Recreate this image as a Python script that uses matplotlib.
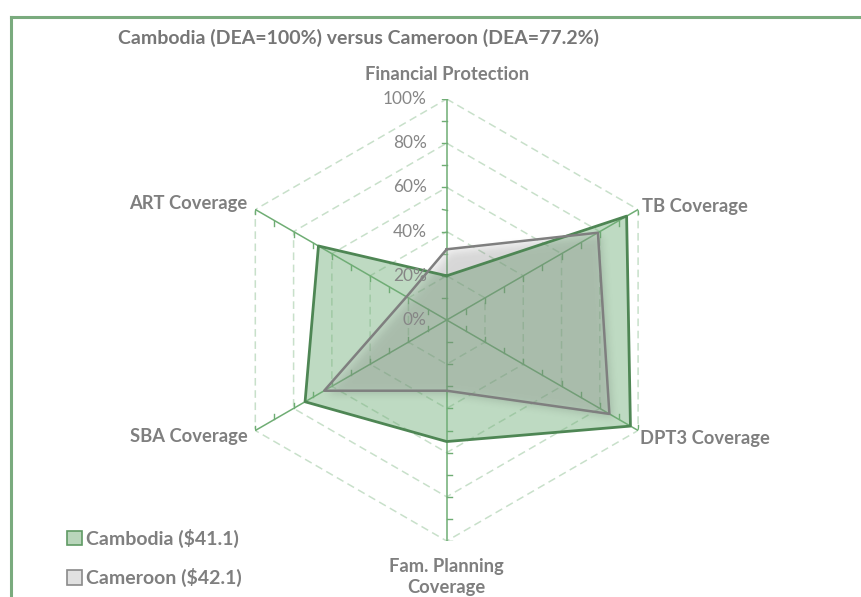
import numpy as np
import matplotlib
matplotlib.use("Agg")
import matplotlib.pyplot as plt
from matplotlib.patches import Patch
from matplotlib.lines import Line2D
from matplotlib.path import Path

# ---- data -------------------------------------------------------------
categories = ["Financial Protection", "TB Coverage", "DPT3 Coverage",
              "Fam. Planning\nCoverage", "SBA Coverage", "ART Coverage"]
cambodia = [20, 94, 96, 55, 74, 67]      # percent
cameroon = [32, 79, 85, 32, 64, 21]      # percent
series_labels = ["Cambodia ($41.1)", "Cameroon ($42.1)"]
title = "Cambodia (DEA=100%) versus Cameroon (DEA=77.2%)"
radial_ticks = [0, 20, 40, 60, 80, 100]

# ---- style ------------------------------------------------------------
FONT = ["Lato", "DejaVu Sans"]
TXT = "#7f7f7f"
AXIS_GREEN = "#6fad74"
GRID_GREEN = "#c8e0ca"
CAM_LINE = "#4e8654"
CAM_FILL = "#70ad78"
CMR_LINE = "#7f7f7f"
CMR_FILL = "#bcbcbc"

W, H = 862, 597
fig = plt.figure(figsize=(W / 100, H / 100), dpi=100)
fig.patch.set_facecolor("white")

# radar area: centre and radius in pixels
cx, cy, R = 446.7, 320.0, 221.0
rect = [(cx - R) / W, (H - cy - R) / H, 2 * R / W, 2 * R / H]


def radar_axes(z):
    a = fig.add_axes(rect, projection="polar", zorder=z)
    a.set_theta_offset(np.pi / 2)
    a.set_theta_direction(-1)
    a.set_ylim(0, 1)
    a.axis("off")
    return a


ax = radar_axes(0)        # grid, spokes, first series fill
ax_top = radar_axes(2)    # second series and outlines

n = len(categories)
theta = np.arange(n) * 2 * np.pi / n
theta_c = np.append(theta, theta[0])

# hexagonal dashed gridlines
for lvl in radial_ticks[1:]:
    ax.plot(theta_c, np.full(n + 1, lvl / 100), color=GRID_GREEN, lw=1.1,
            ls=(0, (5, 3)), zorder=1)

# spokes with minor tick marks
tick_len = 5.0 / R
for t in theta:
    ax.plot([t, t], [0, 1], color=AXIS_GREEN, lw=1.1, zorder=2)
    sx, sy = np.sin(t), np.cos(t)          # spoke direction on screen
    for k in range(1, 11):
        r = k / 10
        px, py = r * sx, r * sy
        if abs(sx) < 1e-6:
            dx, dy = (-tick_len if sy > 0 else tick_len), 0.0
        else:
            dx, dy = 0.0, (-tick_len if sy > 0 else tick_len)
        qx, qy = px + dx, py + dy
        ax.plot([np.arctan2(px, py), np.arctan2(qx, qy)],
                [np.hypot(px, py), np.hypot(qx, qy)],
                color=AXIS_GREEN, lw=1.0, zorder=2)

# series
cam = np.append(cambodia, cambodia[0]) / 100
cmr = np.append(cameroon, cameroon[0]) / 100
ax.fill(theta_c, cam, color=CAM_FILL, alpha=0.45, lw=0, zorder=3)


# soft drop shadow of the second series (down-right, blurred)
def gaussian_blur(img, sigma):
    rad = int(3 * sigma)
    x = np.arange(-rad, rad + 1)
    k = np.exp(-x ** 2 / (2 * sigma ** 2))
    k /= k.sum()
    img = np.apply_along_axis(lambda v: np.convolve(v, k, mode="same"), 0, img)
    img = np.apply_along_axis(lambda v: np.convolve(v, k, mode="same"), 1, img)
    return img


poly = ax.transData.transform(np.column_stack([theta_c, cmr]))
gx, gy = np.meshgrid(np.arange(W) + 0.5, np.arange(H) + 0.5)
pts = np.column_stack([gx.ravel(), gy.ravel()])
shadow = Path(poly + np.array([3.5, -3.5])).contains_points(pts)
shadow = gaussian_blur(shadow.reshape(H, W).astype(float), 4.0)
rgba = np.zeros((H, W, 4))
rgba[..., 3] = 0.13 * shadow
ax_sh = fig.add_axes([0, 0, 1, 1], zorder=1)
ax_sh.imshow(rgba, extent=(0, W, 0, H), origin="lower",
             interpolation="nearest", aspect="auto")
ax_sh.set_xlim(0, W)
ax_sh.set_ylim(0, H)
ax_sh.axis("off")

ax_top.fill(theta_c, cmr, color=CMR_FILL, alpha=0.2, lw=0, zorder=4)
ax_top.plot(theta_c, cam, color=CAM_LINE, lw=2.0, zorder=5)
ax_top.plot(theta_c, cmr, color=CMR_LINE, lw=1.8, zorder=6)

# radial value labels
for v in radial_ticks:
    ax_top.annotate(f"{v}%", xy=(0, v / 100), xytext=(-20, 0),
                    textcoords="offset pixels", ha="right", va="center",
                    fontsize=12.4, color="#868686", family=FONT, zorder=7)

# category labels
offsets = [((0, 25), "center"), ((4, 3), "left"), ((2, -8), "left"),
           ((0, -36), "center"), ((-8, -6), "right"), ((-8, 6), "right")]
for t, lab, (off, ha) in zip(theta, categories, offsets):
    ax_top.annotate(lab, xy=(t, 1.0), xytext=off, textcoords="offset pixels",
                    ha=ha, va="center", fontsize=13.2, fontweight="bold",
                    color=TXT, family=FONT, linespacing=1.35, zorder=7)

# title
fig.text(358 / W, 1 - 38 / H, title, ha="center", va="center",
         fontsize=14, fontweight="bold", color="#767676", family=FONT)

# legend
handles = [Patch(facecolor="#b9d6bb", edgecolor="#5f9a64", lw=1.2),
           Patch(facecolor="#e1e1e1", edgecolor="#8a8a8a", lw=1.2)]
leg = fig.legend(handles, series_labels, loc="upper left",
                 bbox_to_anchor=(59 / W, 1 - 521 / H), frameon=False,
                 handlelength=0.8, handleheight=0.8, handletextpad=0.2,
                 labelspacing=1.05, borderaxespad=0,
                 prop={"family": FONT, "weight": "bold", "size": 14})
for txt in leg.get_texts():
    txt.set_color(TXT)

# chart border (top and left edges)
border = "#7aab7e"
fig.add_artist(Line2D([11 / W, 1.0], [1 - 16.5 / H, 1 - 16.5 / H],
                      color=border, lw=2.2, transform=fig.transFigure))
fig.add_artist(Line2D([11 / W, 11 / W], [0.0, 1 - 16.5 / H],
                      color=border, lw=2.2, transform=fig.transFigure))

fig.savefig("out.png", dpi=100)
